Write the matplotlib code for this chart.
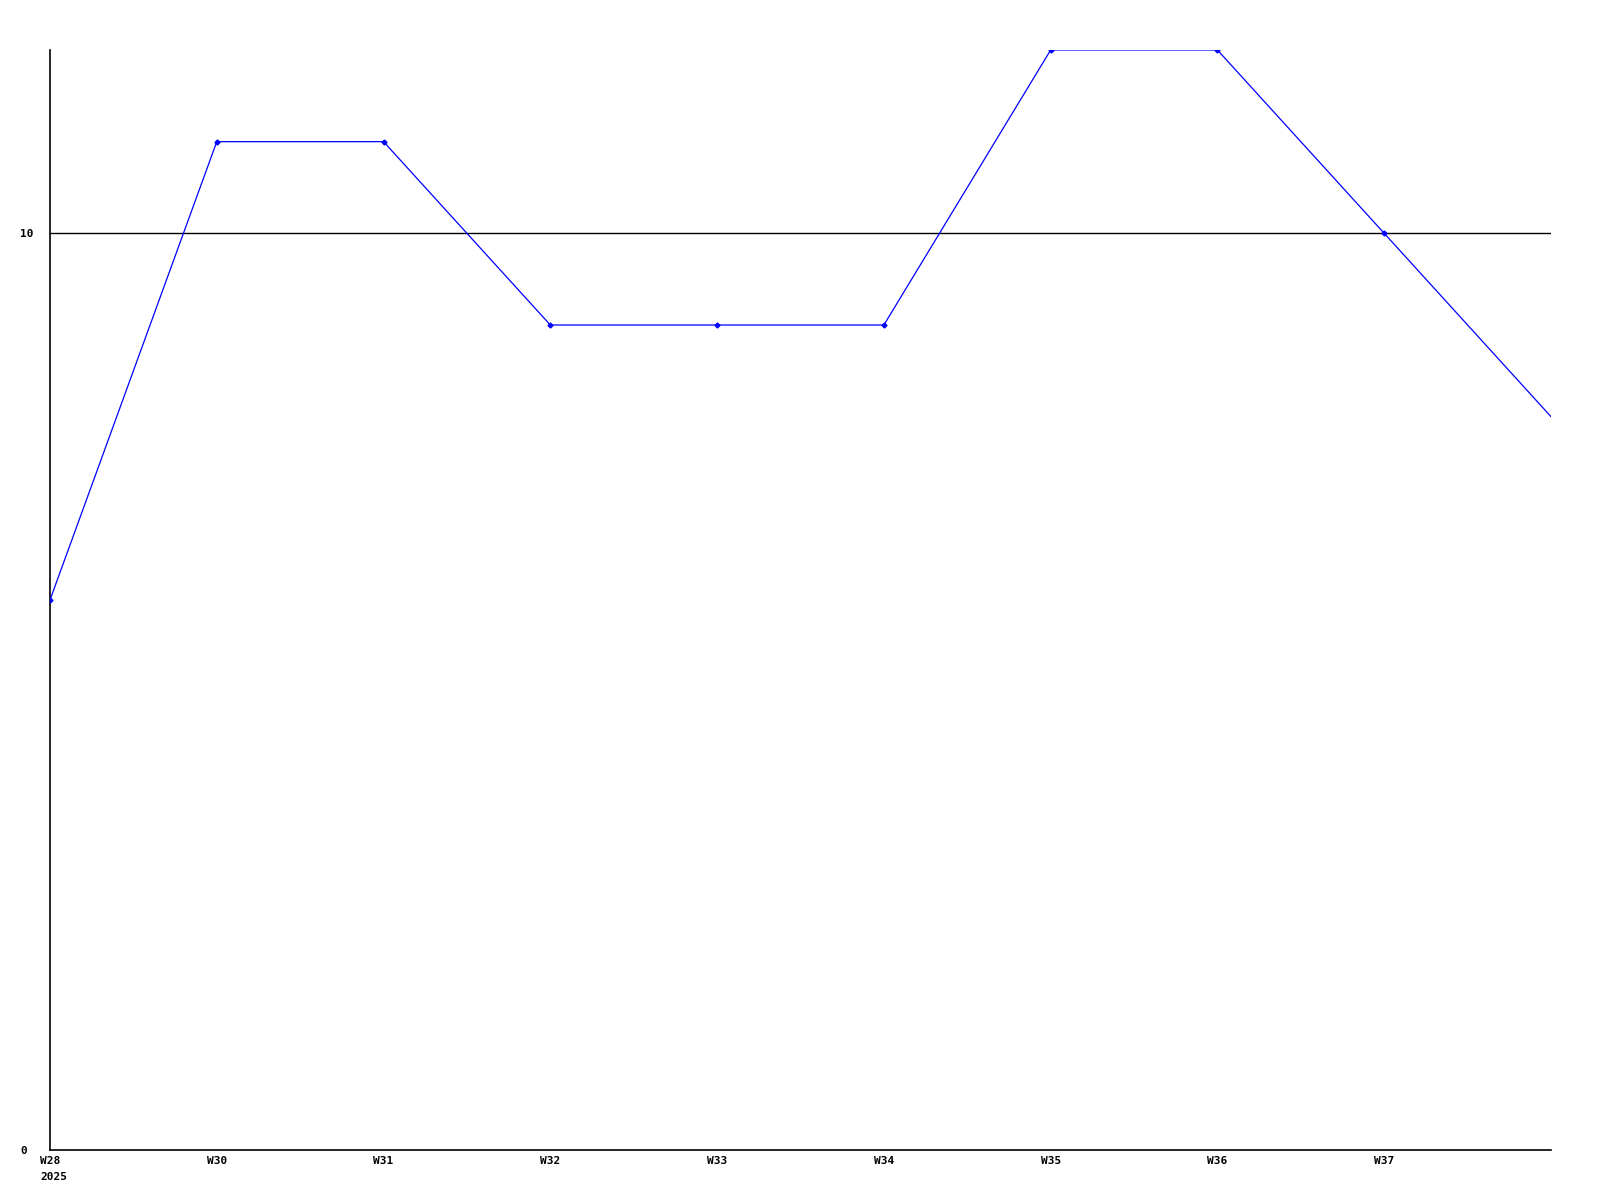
import matplotlib
matplotlib.use('Agg')
import matplotlib.pyplot as plt
import numpy as np

# weekly values
weeks = ['W28', 'W30', 'W31', 'W32', 'W33', 'W34', 'W35', 'W36', 'W37', '']
year = '2025'
values = [6, 11, 11, 9, 9, 9, 12, 12, 10, 8]
yticks = [0, 10]

xx = np.arange(len(values))

fig = plt.figure(figsize=(16, 12), dpi=100)
ax = fig.add_axes([50/1600, 1 - 1150/1200, 1501/1600, 1100/1200])

ax.axhline(10, color='black', lw=1.0, zorder=1)
ax.plot(xx, values, color='#0000ff', lw=0.9, marker='D', ms=2.5,
        mec='#0000ff', mfc='#0000ff', markevery=list(range(len(values) - 1)),
        zorder=3)

ax.set_xlim(0, len(values) - 1)
ax.set_ylim(0, 12)

for s in ['top', 'right']:
    ax.spines[s].set_visible(False)
for s in ['left', 'bottom']:
    ax.spines[s].set_linewidth(1.2)
    ax.spines[s].set_color('black')

fnt = dict(family='DejaVu Sans Mono', weight='bold', size=8)

ax.set_xticks(xx)
ax.set_xticklabels(weeks, fontdict=fnt)
ax.set_yticks(yticks)
ax.set_yticklabels([str(v) for v in yticks], fontdict=fnt, ha='left')
ax.tick_params(axis='both', length=0)
ax.tick_params(axis='x', pad=4)
ax.tick_params(axis='y', pad=21.5)

# year under the first week label
ax.annotate(year, xy=(0, 0), xycoords=('data', 'axes fraction'),
            xytext=(-7.2, -19.5), textcoords='offset points',
            ha='left', va='center', **fnt)

fig.savefig('out.png', dpi=100, facecolor='white')
